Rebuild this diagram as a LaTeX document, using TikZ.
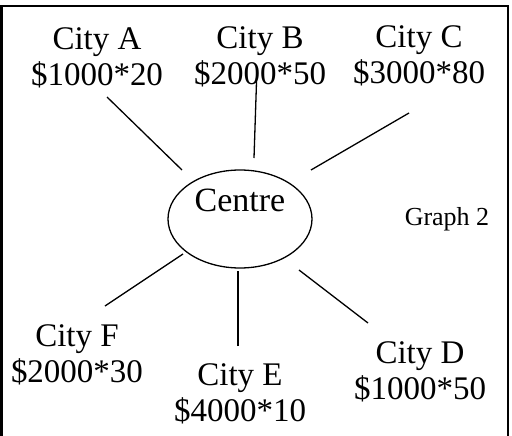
\documentclass[tikz,border=0pt]{standalone}
\usepackage{fontspec}
\setmainfont{Liberation Serif}
\usetikzlibrary{shapes.geometric}

\begin{document}
\begin{tikzpicture}[x=1pt, y=-1pt,
      city/.style={align=center, inner sep=0pt,
                   font=\fontsize{33}{36}\selectfont},
      hub/.style={draw, ellipse, line width=1.3pt, inner sep=0pt,
                  minimum width=144pt, minimum height=98pt,
                  font=\fontsize{34}{36}\selectfont,
                  text height=23pt, text depth=39pt},
      spoke/.style={line width=1.3pt},
      note/.style={font=\fontsize{26}{28}\selectfont, anchor=base, inner sep=0pt},
      frame/.style={line width=1.3pt}]

    \useasboundingbox (0,0) rectangle (512,436);

    % ===== Frame =====
    \draw[frame] (0,6) -- (508,6) -- (508,437);
    \draw[line width=3pt] (1.5,6) -- (1.5,437);

    % ===== Centre =====
    \node[hub] (centre) at (240,219) {Centre};

    % ===== Cities =====
    \node[city] (cityA) at (97,58)  {City A\\\$1000*20};
    \node[city] (cityB) at (260,57) {City B\\\$2000*50};
    \node[city] (cityC) at (419,56) {City C\\\$3000*80};
    \node[city] (cityD) at (420,372) {City D\\\$1000*50};
    \node[city] (cityE) at (240,394) {City E\\\$4000*10};
    \node[city] (cityF) at (77,355) {City F\\\$2000*30};

    \node[note] (graph) at (447,225) {Graph 2};

    % ===== Spokes =====
    \foreach \n/\xo/\yo/\xi/\yi in {
        a/107/97/182/170,
        b/257/67/254/158,
        c/409/113/311/170,
        d/368/323/299/270,
        e/238/346/238/271,
        f/105/306/183/254} {
        \coordinate (\n-out) at (\xo,\yo);
        \coordinate (\n-in)  at (\xi,\yi);
        \draw[spoke] (\n-out) -- (\n-in);
    }

\end{tikzpicture}
\end{document}
